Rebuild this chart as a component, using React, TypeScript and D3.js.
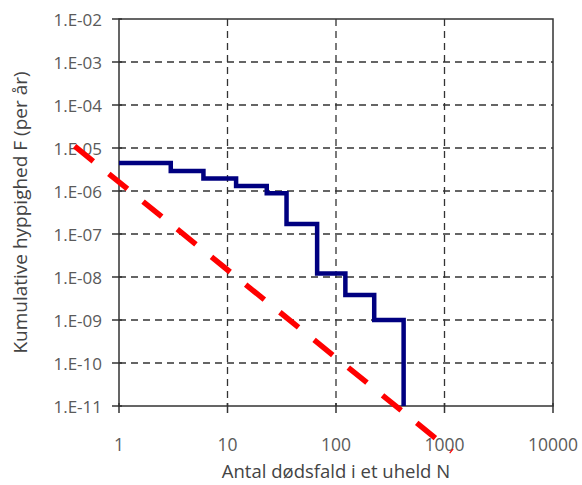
import React from "react";
import * as d3 from "d3";

// stepped curve (cumulative frequency)
const stepN = [1, 3, 6, 12, 23, 35, 67, 122, 225, 420];
const stepF = [4.5e-6, 2.9e-6, 1.95e-6, 1.3e-6, 8.9e-7, 1.7e-7, 1.2e-8, 3.8e-9, 1.0e-9, 1e-11];

// red dashed criterion line (two end points)
const critN = [0.39, 1170];
const critF = [1.1e-5, 8.8e-13];

const xTicks = [1, 10, 100, 1000, 10000];
const yTicks = [1e-2, 1e-3, 1e-4, 1e-5, 1e-6, 1e-7, 1e-8, 1e-9, 1e-10, 1e-11];
const yTickLabels = ["1.E-02", "1.E-03", "1.E-04", "1.E-05", "1.E-06", "1.E-07", "1.E-08", "1.E-09", "1.E-10", "1.E-11"];

const W = 582;
const H = 485;
const margin = { top: 19, right: 29, bottom: 79, left: 119 };

export default function App() {
  const innerW = W - margin.left - margin.right;
  const innerH = H - margin.top - margin.bottom;

  const x = d3.scaleLog().domain([1, 10000]).range([margin.left, margin.left + innerW]);
  const y = d3.scaleLog().domain([1e-11, 1e-2]).range([margin.top + innerH, margin.top]);

  const stepLine = d3
    .line<number>()
    .x((d, i) => x(stepN[i]))
    .y((d) => y(d))
    .curve(d3.curveStepAfter);

  const critLine = d3
    .line<number>()
    .x((d, i) => x(critN[i]))
    .y((d) => y(d));

  const font = "'Open Sans', sans-serif";
  const left = margin.left;
  const right = margin.left + innerW;
  const top = margin.top;
  const bottom = margin.top + innerH;

  return (
    <svg width={W} height={H} style={{ position: "absolute", left: 0, top: 0, background: "#fff" }}>
      {/* grid */}
      <g stroke="#333" strokeWidth={1.3} strokeDasharray="7,5">
        {yTicks.slice(1, -1).map((t, i) => (
          <line key={"gy" + i} x1={left} x2={right} y1={y(t)} y2={y(t)} />
        ))}
        {xTicks.slice(1, -1).map((t, i) => (
          <line key={"gx" + i} x1={x(t)} x2={x(t)} y1={top} y2={bottom} />
        ))}
      </g>

      {/* frame */}
      <rect x={left} y={top} width={innerW} height={innerH} fill="none" stroke="#333" strokeWidth={1.5} />

      {/* ticks */}
      <g stroke="#333" strokeWidth={1.5}>
        {yTicks.map((t, i) => (
          <line key={"ty" + i} x1={left - 7} x2={left + 3} y1={y(t)} y2={y(t)} />
        ))}
        {xTicks.map((t, i) => (
          <line key={"tx" + i} x1={x(t)} x2={x(t)} y1={bottom - 3} y2={bottom + 7} />
        ))}
      </g>

      {/* tick labels */}
      <g fill="#5a5a5a" fontFamily={font}>
        {yTicks.map((t, i) => (
          <text key={"ly" + i} x={left - 17} y={y(t)} dy="0.42em" fontSize={17} textAnchor="end">
            {yTickLabels[i]}
          </text>
        ))}
        {xTicks.map((t, i) => (
          <text key={"lx" + i} x={x(t)} y={451} fontSize={17.5} textAnchor="middle">
            {t}
          </text>
        ))}
      </g>

      {/* data */}
      <path d={stepLine(stepF) || ""} fill="none" stroke="#000080" strokeWidth={4.5} />
      <path d={critLine(critF) || ""} fill="none" stroke="#ff0000" strokeWidth={5.5} strokeDasharray="24,20" />

      {/* axis titles */}
      <text x={(left + right) / 2} y={478} textAnchor="middle" fontFamily={font} fontSize={18.5} fill="#444">
        Antal dødsfald i et uheld N
      </text>
      <text
        transform={`translate(27,${(top + bottom) / 2}) rotate(-90)`}
        textAnchor="middle"
        fontFamily={font}
        fontSize={19}
        fill="#444"
      >
        Kumulative hyppighed F (per år)
      </text>
    </svg>
  );
}
